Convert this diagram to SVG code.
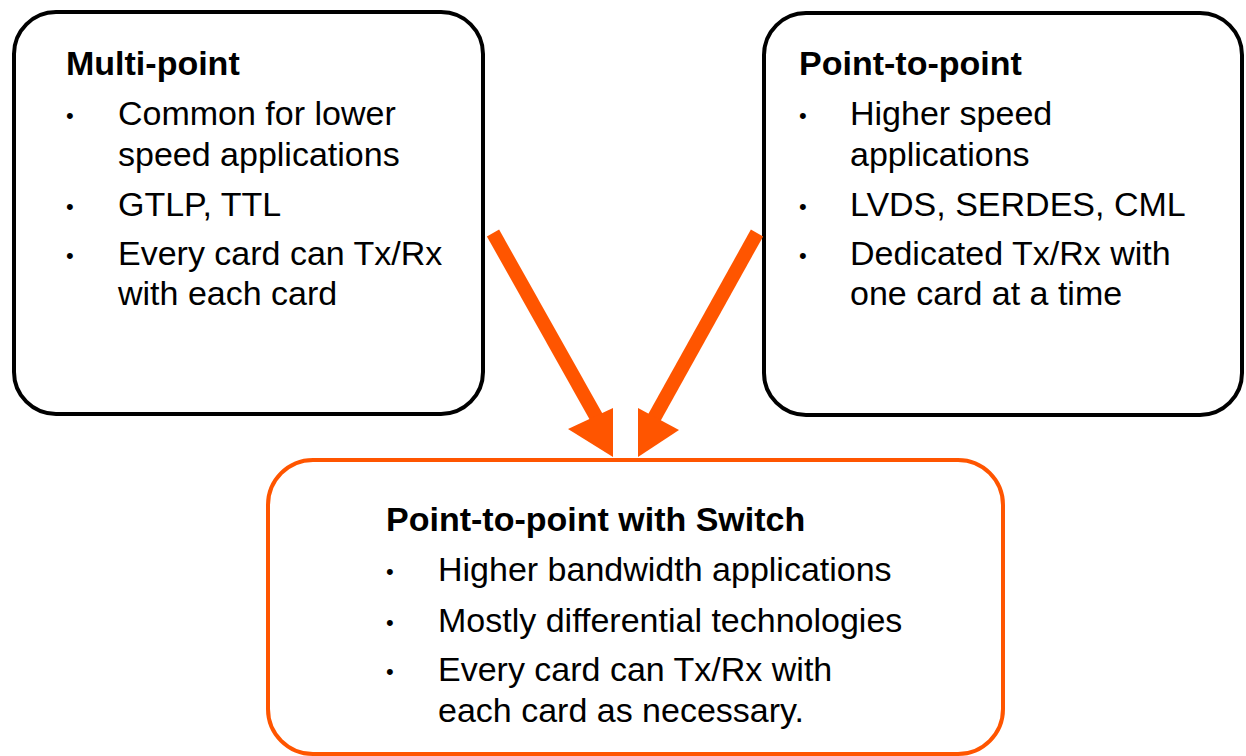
<svg xmlns="http://www.w3.org/2000/svg" width="1246" height="756" viewBox="0 0 1246 756">
<style>
.box{fill:#fff;stroke:#000;stroke-width:4}
.obox{fill:#fff;stroke:#FF5500;stroke-width:4}
text{font-family:"Liberation Sans",Arial,sans-serif;font-size:34px;fill:#000}
.t{font-weight:bold}
.b{font-size:22px}
.arr{stroke:#FF5500;stroke-width:14;fill:none}
.head{fill:#FF5500}
</style>
<rect width="1246" height="756" fill="#fff"/>
<g id="multi-point">
<rect class="box" x="14" y="12" width="469" height="402" rx="42"/>
<text class="t" x="66" y="75">Multi-point</text>
<text class="b" x="66" y="123">•</text>
<text x="118" y="125">Common for lower</text>
<text x="118" y="166">speed applications</text>
<text class="b" x="66" y="214">•</text>
<text x="118" y="216">GTLP, TTL</text>
<text class="b" x="66" y="263">•</text>
<text x="118" y="265">Every card can Tx/Rx</text>
<text x="118" y="305">with each card</text>
</g>
<g id="point-to-point">
<rect class="box" x="764" y="13" width="478" height="402" rx="42"/>
<text class="t" x="799" y="75">Point-to-point</text>
<text class="b" x="799" y="123">•</text>
<text x="850" y="125">Higher speed</text>
<text x="850" y="166">applications</text>
<text class="b" x="799" y="214">•</text>
<text x="850" y="216">LVDS, SERDES, CML</text>
<text class="b" x="799" y="263">•</text>
<text x="850" y="265">Dedicated Tx/Rx with</text>
<text x="850" y="305">one card at a time</text>
</g>
<g id="switch">
<rect class="obox" x="268" y="460" width="735" height="294" rx="45"/>
<text class="t" x="386" y="531">Point-to-point with Switch</text>
<text class="b" x="386" y="579">•</text>
<text x="438" y="581">Higher bandwidth applications</text>
<text class="b" x="386" y="630">•</text>
<text x="438" y="632">Mostly differential technologies</text>
<text class="b" x="386" y="679">•</text>
<text x="438" y="681">Every card can Tx/Rx with</text>
<text x="438" y="722">each card as necessary.</text>
</g>
<g id="connectors">
<line class="arr" x1="493" y1="233" x2="598" y2="420"/>
<polygon class="head" points="568,429 613,408 613,457"/>
<line class="arr" x1="757" y1="233" x2="653" y2="420"/>
<polygon class="head" points="679,430 638,408 638,457"/>
</g>
</svg>
